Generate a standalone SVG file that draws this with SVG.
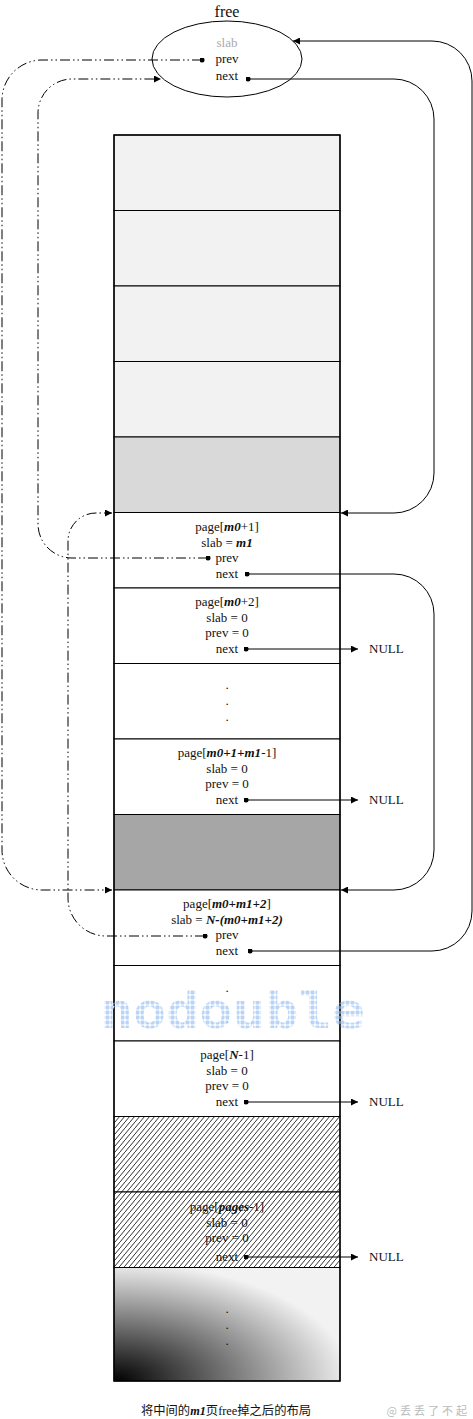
<svg xmlns="http://www.w3.org/2000/svg" width="473" height="1419" viewBox="0 0 473 1419">
<style>
.t{font-family:"Liberation Serif","Times New Roman",serif;font-size:13px;fill:#111;text-anchor:middle}
.bi{font-weight:bold;font-style:italic}
.cell{stroke:#000;stroke-width:1}
.ln{fill:none;stroke:#000;stroke-width:1}
.dd{fill:none;stroke:#000;stroke-width:1;stroke-dasharray:10 3 1.5 3 1.5 3}
</style>
<defs>
<marker id="arr" viewBox="0 0 10 10" refX="10" refY="5" markerWidth="9" markerHeight="7" markerUnits="userSpaceOnUse" orient="auto"><path d="M0,0 L10,5 L0,10 z" fill="#000"/></marker>
<marker id="dot" viewBox="0 0 6 6" refX="3" refY="3" markerWidth="5" markerHeight="5" markerUnits="userSpaceOnUse"><circle cx="3" cy="3" r="3" fill="#000"/></marker>
<pattern id="hatch" width="5" height="6" patternUnits="userSpaceOnUse"><rect width="5" height="6" fill="#fff"/><path d="M-1,7.2 L6,-1.2" stroke="#000" stroke-width="0.8"/></pattern>
<radialGradient id="grad" cx="0" cy="1" r="1.05" fx="0" fy="1"><stop offset="0" stop-color="#000"/><stop offset="1" stop-color="#f2f2f2"/></radialGradient>
<pattern id="wm" width="5" height="5" patternUnits="userSpaceOnUse"><rect x="0.5" y="0.5" width="4" height="4" rx="1" fill="#b9d4f6"/></pattern>
</defs>
<rect width="473" height="1419" fill="#fff"/>

<g id="free">
<text class="t" x="227" y="17" style="font-size:16px">free</text>
<ellipse cx="227" cy="59" rx="75" ry="38" fill="none" stroke="#000" stroke-width="1"/>
<text class="t" x="227" y="47" style="fill:#aaa">slab</text>
<text class="t" x="227" y="63">prev</text>
<text class="t" x="227" y="80">next</text>
</g>

<g id="cell1"><rect class="cell" x="114" y="135" width="226" height="75.5" fill="#f2f2f2"/></g>
<g id="cell2"><rect class="cell" x="114" y="210.5" width="226" height="75.5" fill="#f2f2f2"/></g>
<g id="cell3"><rect class="cell" x="114" y="286" width="226" height="75.5" fill="#f2f2f2"/></g>
<g id="cell4"><rect class="cell" x="114" y="361.5" width="226" height="75.5" fill="#f2f2f2"/></g>
<g id="cell5"><rect class="cell" x="114" y="437" width="226" height="75.5" fill="#d9d9d9"/></g>
<g id="page_m0_1"><rect class="cell" x="114" y="512.5" width="226" height="75.5" fill="#fff"/>
<text class="t" x="227" y="530.5">page[<tspan class="bi">m0</tspan>+1]</text>
<text class="t" x="227" y="546.5">slab = <tspan class="bi">m1</tspan></text>
<text class="t" x="227" y="561.5">prev</text>
<text class="t" x="227" y="577.5">next</text></g>
<g id="page_m0_2"><rect class="cell" x="114" y="588" width="226" height="75.5" fill="#fff"/>
<text class="t" x="227" y="606">page[<tspan class="bi">m0</tspan>+2]</text>
<text class="t" x="227" y="622">slab = 0</text>
<text class="t" x="227" y="637">prev = 0</text>
<text class="t" x="227" y="653">next</text>
<text class="t" x="369" y="653" style="text-anchor:start">NULL</text></g>
<g id="dots1"><rect class="cell" x="114" y="663.5" width="226" height="75.5" fill="#fff"/>
<text class="t" x="227" y="689">.</text><text class="t" x="227" y="705">.</text><text class="t" x="227" y="721">.</text></g>
<g id="page_m0_1_m1_1"><rect class="cell" x="114" y="739" width="226" height="75.5" fill="#fff"/>
<text class="t" x="227" y="757">page[<tspan class="bi">m0+1+m1</tspan>-1]</text>
<text class="t" x="227" y="773">slab = 0</text>
<text class="t" x="227" y="788">prev = 0</text>
<text class="t" x="227" y="804">next</text>
<text class="t" x="369" y="804" style="text-anchor:start">NULL</text></g>
<g id="cell10"><rect class="cell" x="114" y="814.5" width="226" height="75.5" fill="#a6a6a6"/></g>
<g id="page_m0_m1_2"><rect class="cell" x="114" y="890" width="226" height="75.5" fill="#fff"/>
<text class="t" x="227" y="908">page[<tspan class="bi">m0+m1+2</tspan>]</text>
<text class="t" x="227" y="924">slab = <tspan class="bi">N-(m0+m1+2)</tspan></text>
<text class="t" x="227" y="939">prev</text>
<text class="t" x="227" y="955">next</text></g>
<g id="dots2"><rect class="cell" x="114" y="965.5" width="226" height="75.5" fill="#fff"/>
<text class="t" x="227" y="992">.</text><text class="t" x="227" y="1008">.</text><text class="t" x="227" y="1023">.</text></g>
<g id="page_N_1"><rect class="cell" x="114" y="1041" width="226" height="75.5" fill="#fff"/>
<text class="t" x="227" y="1059">page[<tspan class="bi">N</tspan>-1]</text>
<text class="t" x="227" y="1075">slab = 0</text>
<text class="t" x="227" y="1090">prev = 0</text>
<text class="t" x="227" y="1106">next</text>
<text class="t" x="369" y="1106" style="text-anchor:start">NULL</text></g>
<g id="cell14"><rect class="cell" x="114" y="1116.5" width="226" height="75.5" fill="url(#hatch)"/></g>
<g id="page_pages_1"><rect class="cell" x="114" y="1192" width="226" height="75.5" fill="url(#hatch)"/>
<text class="t" x="227" y="1211">page[<tspan class="bi">pages</tspan>-1]</text>
<text class="t" x="227" y="1227">slab = 0</text>
<text class="t" x="227" y="1242">prev = 0</text>
<text class="t" x="227" y="1261">next</text>
<text class="t" x="369" y="1261" style="text-anchor:start">NULL</text></g>
<g id="cell16"><rect class="cell" x="114" y="1267.5" width="226" height="113.5" fill="url(#grad)"/>
<text class="t" x="227" y="1313">.</text><text class="t" x="227" y="1329">.</text><text class="t" x="227" y="1345">.</text></g>
<rect x="114" y="135" width="226" height="1246" fill="none" stroke="#000" stroke-width="1.4"/>

<g id="connectors">
<path class="ln" d="M248,79 H394 A40,40 0 0 1 434,119 V473 A40,40 0 0 1 394,513 H341" marker-start="url(#dot)" marker-end="url(#arr)"/>
<path class="ln" d="M250,951 H432 A40,40 0 0 0 472,911 V81 A40,40 0 0 0 432,41 H293" marker-start="url(#dot)" marker-end="url(#arr)"/>
<path class="ln" d="M247,574 H394 A40,40 0 0 1 434,614 V850 A40,40 0 0 1 394,890 H341" marker-start="url(#dot)" marker-end="url(#arr)"/>
<path class="dd" d="M202,60 H42 A40,40 0 0 0 2,100 V850 A40,40 0 0 0 42,890 H112" marker-start="url(#dot)" marker-end="url(#arr)"/>
<path class="dd" d="M208,558 H72 A34,34 0 0 1 38,524 V113 A34,34 0 0 1 72,79 H161" marker-start="url(#dot)" marker-end="url(#arr)"/>
<path class="dd" d="M205,936 H106 A38,38 0 0 1 68,898 V541 A28,28 0 0 1 96,513 H112" marker-start="url(#dot)" marker-end="url(#arr)"/>
<path class="ln" d="M246,649 H358" marker-start="url(#dot)" marker-end="url(#arr)"/>
<path class="ln" d="M246,800 H358" marker-start="url(#dot)" marker-end="url(#arr)"/>
<path class="ln" d="M246,1102 H358" marker-start="url(#dot)" marker-end="url(#arr)"/>
<path class="ln" d="M246,1257 H358" marker-start="url(#dot)" marker-end="url(#arr)"/>
</g>

<g id="watermark">
<text x="100" y="1028" font-family="DejaVu Sans Mono, monospace" font-weight="bold" font-size="50" textLength="265" lengthAdjust="spacingAndGlyphs" fill="url(#wm)">nodouble</text>
</g>

<g id="caption">
<text x="226" y="1415" style="font-family:'Liberation Serif','Noto Sans CJK SC',serif;font-size:12.3px;fill:#111;text-anchor:middle">将中间的<tspan class="bi">m1</tspan>页free掉之后的布局</text>
<text x="470" y="1415" style="font-family:'Noto Sans CJK SC',sans-serif;font-size:11px;fill:#bbb;text-anchor:end;letter-spacing:3px">@丢丢了不起</text>
</g>
</svg>
